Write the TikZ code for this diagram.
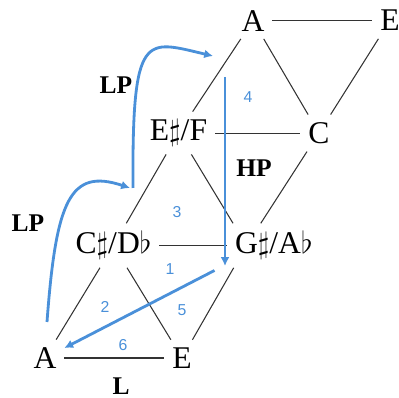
\documentclass[tikz,border=0pt]{standalone}
\usepackage{fontspec}
\setmainfont{Liberation Serif}
\newfontfamily\numfont{Liberation Sans}
\usepackage{tikz}
\usetikzlibrary{arrows.meta,positioning}
\definecolor{moveblue}{RGB}{74,144,217}

\begin{document}
\begin{tikzpicture}[
  x=0.02cm, y=-0.02cm,
  on grid,
  node distance=2.25cm and 2.74cm,
  note/.style={font=\fontsize{18}{20}\selectfont, inner sep=4.5pt, outer sep=0pt},
  op/.style={font=\fontsize{14.5}{16}\selectfont\bfseries, inner sep=1pt},
  num/.style={font=\numfont\fontsize{9}{10}\selectfont, text=moveblue},
  move/.style={draw=moveblue, line width=1.6pt, -{Latex[length=5pt,width=5pt]}},
  every edge/.style={draw=black!80, line width=0.6pt}
]
  \useasboundingbox (0,0) rectangle (399,398);

  % tonnetz
  \node[note] (a1) at (45,358) {A};
  \node[note, right=of a1] (e1) {E};
  \node[note, above right=2.25cm and 1.37cm of a1] (cs) {C$\sharp$/D$\flat$};
  \node[note, right=2.66cm of cs] (gs) {G\rlap{$\sharp$/A$\flat$}};
  \node[note, above right=2.25cm and 1.3cm of cs] (ef) {E$\sharp$/F};
  \node[note, above right=2.25cm and 1.37cm of cs, xshift=2.74cm] (c) {C};
  \node[note, above right=2.25cm and 1.49cm of ef] (a2) {A};
  \node[note, right=of a2] (e2) {E};

  \path (a2) edge (e2);
  \path (a2) edge (ef);
  \path (a2) edge (c);
  \path (e2) edge (c);
  \path (ef) edge (c);
  \path (ef) edge (cs);
  \path (ef) edge (gs);
  \path (c) edge (gs);
  \path (cs) edge (gs);
  \path (cs) edge (a1);
  \path (cs) edge (e1);
  \path (gs) edge (e1);
  \path (a1) edge (e1);

  % moves
  \coordinate (lp1-s) at (47,322);
  \coordinate (lp1-e) at (130,188);
  \coordinate (lp2-s) at (133,188);
  \coordinate (lp2-e) at (213,56);
  \coordinate (hp-s) at (225,77);
  \coordinate (hp-e) at (225,266);

  \draw[move] (lp1-s) .. controls (56,200) and (70,168) .. (lp1-e);
  \draw[move] (lp2-s) .. controls (132,30) and (145,40) .. (lp2-e);
  \draw[move] (hp-s) -- (hp-e);
  \path (gs.base) edge[move, shorten <=0.72cm] (a1);

  \node[op] (lp-up) at (116,85) {LP};
  \node[op] (lp-low) at (28,223) {LP};
  \node[op] (hp) at (254,168) {HP};
  \node[op] (l) at (121,386) {L};

  \node[num] (n1) at (170,269) {1};
  \node[num] (n2) at (105,307) {2};
  \node[num] (n3) at (177,212) {3};
  \node[num] (n4) at (248,97) {4};
  \node[num] (n5) at (182,310) {5};
  \node[num] (n6) at (123,345) {6};
\end{tikzpicture}
\end{document}
